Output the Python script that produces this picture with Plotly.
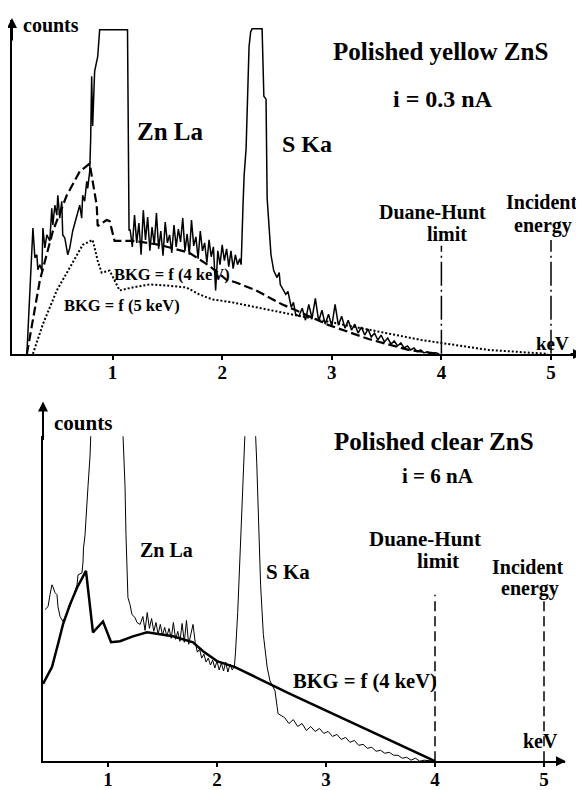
import plotly.graph_objects as go

# ---- panel 1 : polished yellow ZnS, i = 0.3 nA ----
yel_kev = [0.218, 0.273, 0.291, 0.309, 0.318, 0.336, 0.355, 0.364, 0.382, 0.4,
           0.427, 0.445, 0.455, 0.473, 0.491, 0.5, 0.518, 0.536, 0.545, 0.564,
           0.591, 0.609, 0.636, 0.673, 0.7, 0.718, 0.727, 0.745, 0.764, 0.773,
           0.791, 0.8, 0.809, 0.818, 0.836, 0.864, 0.882, 1.136, 1.15,
           1.16, 1.18, 1.20, 1.22, 1.24, 1.26, 1.28, 1.30, 1.32, 1.34,
           1.36, 1.38, 1.40, 1.42, 1.44, 1.46, 1.48, 1.50, 1.52, 1.54,
           1.56, 1.58, 1.60, 1.62, 1.64, 1.66, 1.68, 1.70, 1.72, 1.74,
           1.76, 1.78, 1.80, 1.82, 1.84, 1.86, 1.88, 1.90, 1.92, 1.94,
           1.96, 1.98, 2.00, 2.02, 2.04, 2.06, 2.08, 2.10, 2.12, 2.14, 2.16,
           2.173, 2.19, 2.2, 2.218, 2.23, 2.245, 2.26, 2.273, 2.364, 2.37,
           2.38, 2.4, 2.405, 2.41, 2.445, 2.47, 2.5, 2.52, 2.53, 2.55,
           2.58, 2.6, 2.62, 2.63, 2.65, 2.67,
           2.70, 2.73, 2.76, 2.79, 2.82, 2.85, 2.88, 2.91, 2.94, 2.97,
           3.00, 3.03, 3.06, 3.09, 3.12, 3.15, 3.18, 3.21, 3.24, 3.27,
           3.30, 3.33, 3.36, 3.39, 3.42, 3.45, 3.48, 3.51, 3.54, 3.57,
           3.60, 3.63, 3.66, 3.69, 3.72, 3.75, 3.78, 3.81, 3.84, 3.87,
           3.90, 3.95, 3.98]
yel_counts = [0, 127, 97, 100, 85, 90, 84, 127, 107, 120,
              114, 147, 130, 150, 140, 160, 137, 154, 120, 117,
              100, 107, 124, 140, 150, 137, 160, 154, 174, 167,
              184, 217, 280, 230, 285, 300, 327, 327, 125,
              125, 108, 140, 112, 132, 100, 145, 115, 138, 104,
              128, 110, 142, 106, 124, 99, 133, 112, 120, 102,
              130, 108, 126, 113, 137, 104, 121, 100, 135, 109,
              118, 96, 124, 104, 112, 92, 115, 98, 108, 64,
              104, 90, 110, 94, 106, 88, 104, 86, 100, 90, 96,
              90, 150, 180, 207, 257, 310, 325, 328, 328, 294,
              260, 257, 207, 157, 100, 84, 77, 82, 70, 66,
              60, 63, 50, 47, 52, 40,
              38, 46, 34, 50, 36, 56, 33, 44, 30, 40,
              28, 50, 29, 38, 26, 34, 24, 30, 21, 27,
              19, 25, 17, 21, 14, 19, 12, 16, 10, 13,
              8, 11, 6, 8, 4, 6, 2, 4, 1, 2,
              0, 1, 0]

bkg4_kev = [0.218, 0.273, 0.336, 0.455, 0.582, 0.7, 0.791, 0.855, 0.864, 0.945,
            0.973, 1.018, 1.2, 1.43, 1.7, 1.88, 2.036, 2.127, 2.309, 2.545,
            2.673, 2.973, 3.336, 3.7, 3.98]
bkg4_counts = [0, 34, 74, 124, 160, 184, 192, 150, 129, 135,
               134, 114, 114, 110, 102, 89, 75, 72, 64, 50,
               44, 29, 15, 4, 0]

bkg5_kev = [0.273, 0.364, 0.491, 0.609, 0.727, 0.818, 0.864, 0.9, 0.973, 1.064,
            1.182, 1.336, 1.491, 1.673, 1.791, 1.909, 2.091, 2.4, 2.636, 3.218,
            3.818, 4.427, 4.973]
bkg5_counts = [0, 30, 64, 87, 110, 115, 94, 82, 84, 64,
               67, 70, 69, 67, 60, 55, 52, 45, 40, 27,
               14, 4, 0]

# ---- panel 2 : polished clear ZnS, i = 6 nA ----
clr_kev = [0.422, 0.45, 0.468, 0.486, 0.495, 0.514, 0.532, 0.541, 0.56, 0.587,
           0.624, 0.651, 0.679, 0.716, 0.725, 0.761, 0.771, 0.775, 0.789, 0.807,
           0.817, 0.835, 0.85, 0.9, 1.05, 1.12, 1.138, 1.156, 1.165, 1.174,
           1.183, 1.202, 1.220, 1.248, 1.266, 1.294,
           1.32, 1.34, 1.36, 1.38, 1.40, 1.42, 1.44, 1.46, 1.48, 1.50,
           1.52, 1.54, 1.56, 1.58, 1.60, 1.62, 1.64, 1.66, 1.68, 1.70,
           1.72, 1.74, 1.76, 1.78, 1.80, 1.82, 1.84, 1.86, 1.88, 1.90,
           1.92, 1.94, 1.96, 1.98, 2.00, 2.02, 2.04, 2.06, 2.08, 2.10,
           2.12, 2.14, 2.16, 2.17, 2.19, 2.21, 2.225, 2.245, 2.26, 2.3,
           2.35, 2.365, 2.38, 2.4, 2.425, 2.46, 2.486, 2.514, 2.532, 2.56,
           2.596,
           2.62, 2.66, 2.70, 2.74, 2.78, 2.82, 2.86, 2.90, 2.94, 2.98,
           3.02, 3.06, 3.10, 3.14, 3.18, 3.22, 3.26, 3.30, 3.34, 3.38,
           3.42, 3.46, 3.50, 3.54, 3.58, 3.62, 3.66, 3.70, 3.74, 3.78,
           3.82, 3.86, 3.90, 4.0]
clr_counts = [153, 156, 168, 178, 176, 170, 168, 156, 146, 141,
              150, 156, 165, 178, 188, 190, 201, 215, 228, 255,
              278, 308, 400, 500, 500, 400, 328, 278, 228, 191,
              165, 158, 148, 145, 140, 138,
              146, 132, 150, 134, 144, 131, 140, 128, 138, 127,
              135, 126, 134, 124, 140, 123, 131, 121, 139, 120,
              142, 118, 128, 138, 120, 110, 113, 104, 108, 100,
              104, 97, 102, 94, 101, 92, 99, 91, 100, 90,
              98, 92, 96, 110, 150, 200, 245, 300, 340, 420,
              340, 300, 240, 178, 128, 95, 81, 75, 71, 48,
              46,
              44, 38, 42, 35, 38, 31, 35, 30, 33, 28,
              30, 25, 27, 22, 24, 19, 21, 16, 17, 13,
              14, 10, 11, 8, 9, 6, 6, 3, 4, 1,
              3, 0, 1, 0]

bkgc_kev = [0.404, 0.486, 0.541, 0.587, 0.651, 0.716, 0.798, 0.862, 0.954, 1.028,
            1.11, 1.229, 1.358, 1.596, 1.78, 1.872, 2.0, 2.165, 2.67, 4.0]
bkgc_counts = [78, 95, 118, 138, 158, 175, 192, 130, 141, 120,
               121, 126, 130, 126, 120, 111, 101, 95, 68, 0]

ticks = [1, 2, 3, 4, 5]
duane_hunt = 4.0
incident = 5.0

# the page body keeps its default 8px margin, so the figure is shrunk by it
OFF = 8
W, H = 584 - OFF, 790 - OFF
serif = "'Liberation Serif', serif"


def px_x(px):
    return (px - OFF) / W


def px_y(py):
    return 1 - (py - OFF) / H


fig = go.Figure()

fig.add_trace(go.Scatter(x=yel_kev, y=yel_counts, mode="lines",
                         line=dict(color="black", width=1.5), xaxis="x", yaxis="y"))
fig.add_trace(go.Scatter(x=bkg4_kev, y=bkg4_counts, mode="lines",
                         line=dict(color="black", width=2.2, dash="9px,4px"),
                         xaxis="x", yaxis="y"))
fig.add_trace(go.Scatter(x=bkg5_kev, y=bkg5_counts, mode="lines",
                         line=dict(color="black", width=2, dash="2px,2px"),
                         xaxis="x", yaxis="y"))
fig.add_trace(go.Scatter(x=[duane_hunt, duane_hunt], y=[0, 109], mode="lines",
                         line=dict(color="black", width=1.5, dash="24px,4px,2px,4px"),
                         xaxis="x", yaxis="y"))
fig.add_trace(go.Scatter(x=[incident, incident], y=[0, 115], mode="lines",
                         line=dict(color="black", width=1.5, dash="24px,4px,2px,4px"),
                         xaxis="x", yaxis="y"))

fig.add_trace(go.Scatter(x=clr_kev, y=clr_counts, mode="lines",
                         line=dict(color="black", width=1), xaxis="x2", yaxis="y2"))
fig.add_trace(go.Scatter(x=bkgc_kev, y=bkgc_counts, mode="lines",
                         line=dict(color="black", width=2.5), xaxis="x2", yaxis="y2"))
fig.add_trace(go.Scatter(x=[duane_hunt, duane_hunt], y=[0, 168], mode="lines",
                         line=dict(color="black", width=1.5, dash="10px,5px"),
                         xaxis="x2", yaxis="y2"))
fig.add_trace(go.Scatter(x=[incident, incident], y=[0, 165], mode="lines",
                         line=dict(color="black", width=1.5, dash="10px,5px"),
                         xaxis="x2", yaxis="y2"))

xcommon = dict(showgrid=False, zeroline=False, showline=True, linecolor="black",
               linewidth=2, ticks="outside", ticklen=4, tickwidth=2, tickcolor="black",
               tickvals=ticks, ticklabelstandoff=-4,
               tickfont=dict(family=serif, size=19, color="black", weight="bold"))
ycommon = dict(showgrid=False, zeroline=False, showline=True, linecolor="black",
               linewidth=2, showticklabels=False, ticks="")

fig.update_layout(
    width=W, height=H, margin=dict(l=0, r=0, t=0, b=0),
    paper_bgcolor="white", plot_bgcolor="white", showlegend=False,
    xaxis=dict(xcommon, domain=[px_x(12), px_x(582)], range=[9 / 109.6, 579 / 109.6],
               anchor="y"),
    yaxis=dict(ycommon, domain=[px_y(357), px_y(20)], range=[0, 337], anchor="x"),
    xaxis2=dict(xcommon, domain=[px_x(43), px_x(565)], range=[44 / 109, 566 / 109],
                anchor="y2"),
    yaxis2=dict(ycommon, domain=[px_y(768), px_y(440)], range=[0, 328], anchor="x2"),
)

labels = [
    ("counts", 51, 25, 20), ("Zn La", 170, 133, 25), ("S Ka", 307, 145, 24),
    ("Polished yellow ZnS", 440, 52, 25), ("i = 0.3 nA", 443, 100, 24),
    ("Duane-Hunt", 432, 214, 20), ("limit", 447, 236, 20),
    ("Incident", 541, 204, 20), ("energy", 543, 227, 20), ("keV", 552, 347, 19),
    ("BKG = f (4 keV)", 172, 277, 16.5), ("BKG = f (5 keV)", 122, 308, 16.5),
    ("counts", 83, 427, 21), ("Zn La", 166, 555, 20), ("S Ka", 288, 577, 21),
    ("Polished clear ZnS", 434, 445, 25), ("i = 6 nA", 438, 480, 21),
    ("Duane-Hunt", 425, 544, 21), ("limit", 438, 566, 21),
    ("Incident", 527, 572, 20), ("energy", 530, 594, 20),
    ("BKG = f (4 keV)", 365, 688, 20.5), ("keV", 540, 748, 20),
]
for txt, px, py, size in labels:
    fig.add_annotation(x=px_x(px), y=px_y(py), xref="paper", yref="paper", text=txt,
                       showarrow=False, xanchor="center", yanchor="middle",
                       font=dict(family=serif, size=size, color="black", weight="bold"))

# axis arrows
arrows = [(12, 18, 0, 24), (583, 357, -14, 0), (43, 405, 0, 40), (566, 768, -10, 0)]
for px, py, ax, ay in arrows:
    fig.add_annotation(x=px_x(px), y=px_y(py), xref="paper", yref="paper", text="",
                       showarrow=True, ax=ax, ay=ay, arrowhead=2, arrowsize=1,
                       arrowwidth=2, arrowcolor="black")

fig.write_html("out.html")
